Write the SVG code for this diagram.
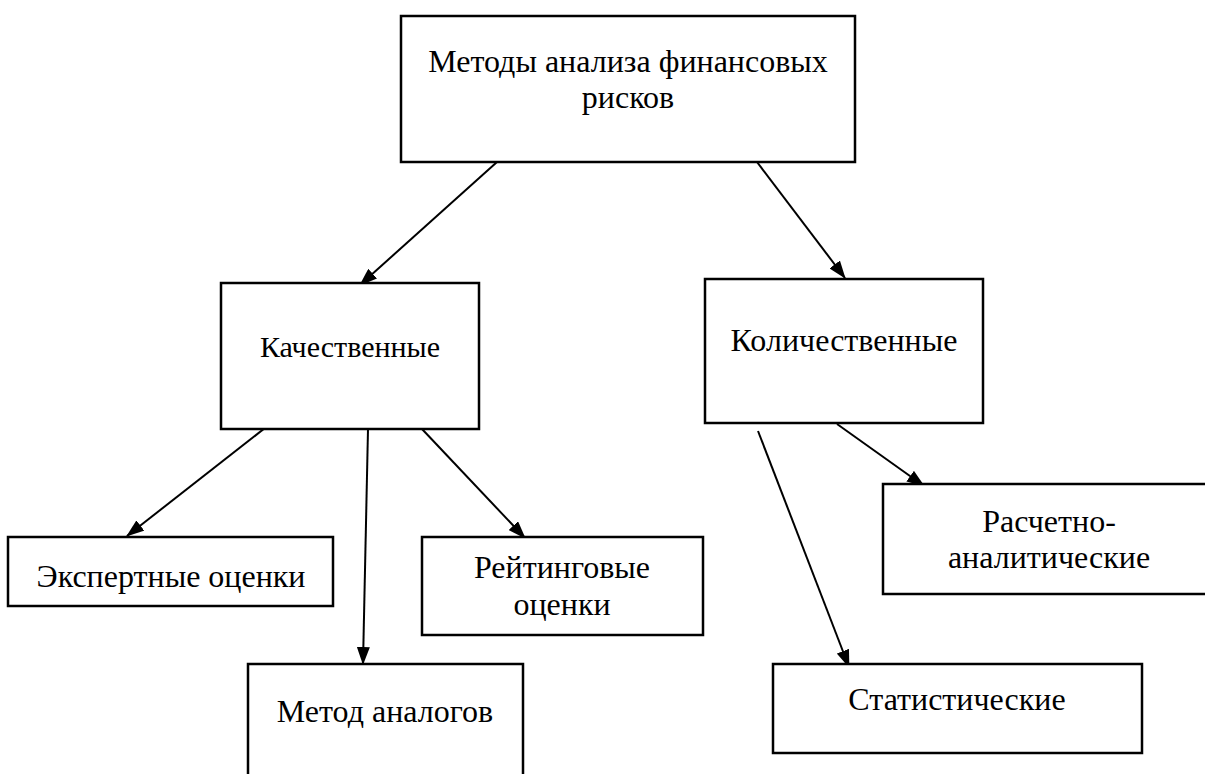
<svg xmlns="http://www.w3.org/2000/svg" width="1205" height="774" viewBox="0 0 1205 774">
<style>
.box{fill:#fff;stroke:#000;stroke-width:2.5}
.t{font-family:"Liberation Serif","Times New Roman",serif;font-size:32px;fill:#000;text-anchor:middle}
.c{stroke:#000;stroke-width:2;fill:none;marker-end:url(#ah)}
</style>
<defs>
<marker id="ah" viewBox="0 0 18 13" refX="17" refY="6.5" markerWidth="18" markerHeight="13" markerUnits="userSpaceOnUse" orient="auto">
<path d="M0,0 L18,6.5 L0,13 Z" fill="#000"/>
</marker>
</defs>
<rect width="1205" height="774" fill="#fff"/>
<g id="connectors">
<line class="c" x1="497" y1="162" x2="360" y2="285"/>
<line class="c" x1="757" y1="162" x2="845" y2="278"/>
<line class="c" x1="265" y1="428" x2="127" y2="536"/>
<line class="c" x1="368" y1="429" x2="363" y2="664"/>
<line class="c" x1="422" y1="429" x2="525" y2="538"/>
<line class="c" x1="758" y1="431" x2="849" y2="667"/>
<line class="c" x1="837" y1="424" x2="924" y2="486"/>
</g>
<g id="n-top">
<rect class="box" x="401" y="16" width="454" height="146"/>
<text class="t" x="628" y="72">Методы анализа финансовых</text>
<text class="t" x="628" y="108">рисков</text>
</g>
<g id="n-kach">
<rect class="box" x="221" y="283" width="258" height="146"/>
<text class="t" x="350" y="357" style="font-size:30px">Качественные</text>
</g>
<g id="n-kol">
<rect class="box" x="705" y="279" width="278" height="144"/>
<text class="t" x="844" y="351">Количественные</text>
</g>
<g id="n-eksp">
<rect class="box" x="8" y="537" width="325" height="69"/>
<text class="t" x="171" y="587">Экспертные оценки</text>
</g>
<g id="n-reyt">
<rect class="box" x="422" y="537" width="281" height="98"/>
<text class="t" x="562" y="578">Рейтинговые</text>
<text class="t" x="562" y="615">оценки</text>
</g>
<g id="n-analog">
<rect class="box" x="248" y="664" width="275" height="130"/>
<text class="t" x="385" y="722">Метод аналогов</text>
</g>
<g id="n-rasch">
<rect class="box" x="883" y="484" width="332" height="110"/>
<text class="t" x="1049" y="532">Расчетно-</text>
<text class="t" x="1049" y="568">аналитические</text>
</g>
<g id="n-stat">
<rect class="box" x="773" y="664" width="369" height="89"/>
<text class="t" x="957" y="710">Статистические</text>
</g>
</svg>
